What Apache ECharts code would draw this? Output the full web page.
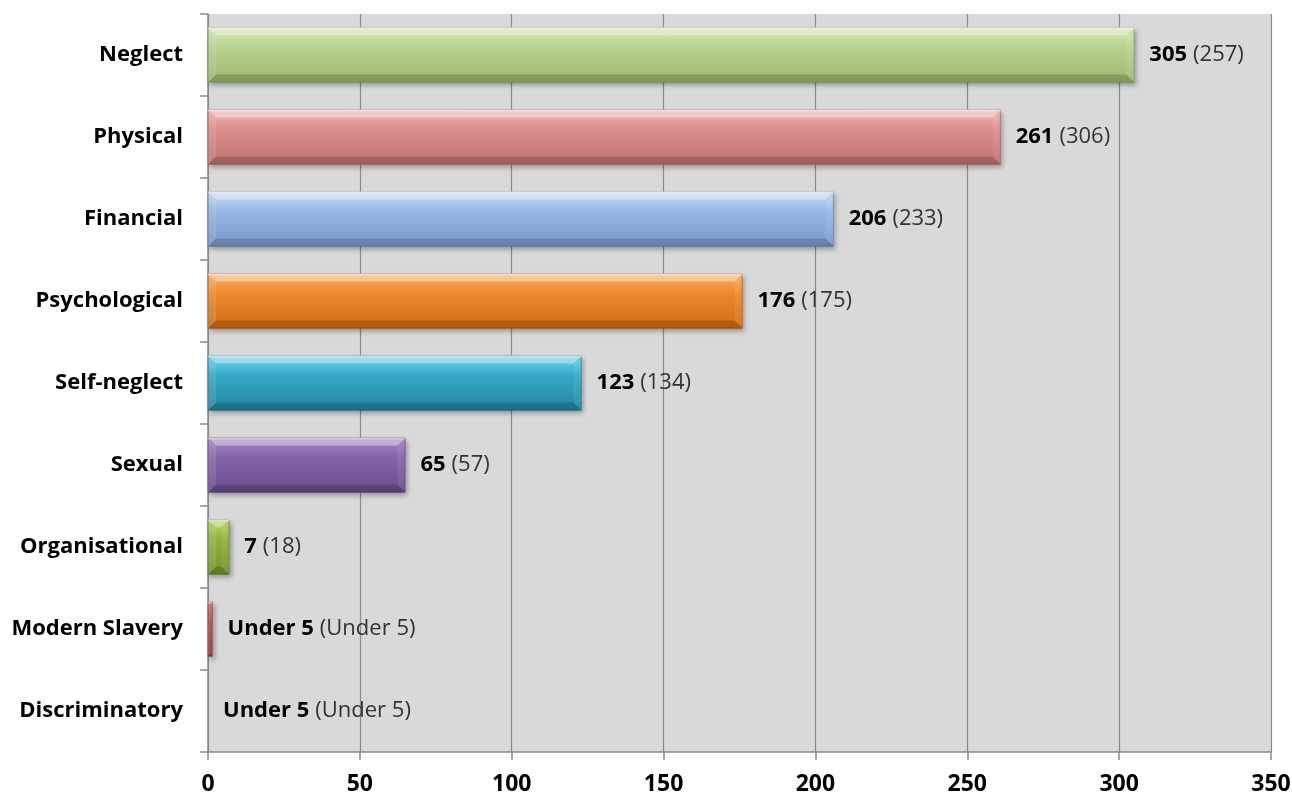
<!DOCTYPE html>
<html>
<head>
<meta charset="utf-8">
<script src="https://cdn.jsdelivr.net/npm/echarts@6/dist/echarts.min.js"></script>
<style>
  html, body { margin: 0; padding: 0; background: #ffffff; }
  #chart { width: 1292px; height: 796px; }
</style>
</head>
<body>
<div id="chart"></div>
<script>
// Types of abuse: bar length, this year's label, last year's label (in brackets)
const categories = ['Neglect', 'Physical', 'Financial', 'Psychological', 'Self-neglect',
                    'Sexual', 'Organisational', 'Modern Slavery', 'Discriminatory'];
const barValues = [305, 261, 206, 176, 123, 65, 7, 1.5, 0];
const currentLabels = ['305', '261', '206', '176', '123', '65', '7', 'Under 5', 'Under 5'];
const previousLabels = ['257', '306', '233', '175', '134', '57', '18', 'Under 5', 'Under 5'];
const xTicks = [0, 50, 100, 150, 200, 250, 300, 350];

// Per-bar colour: [top, middle, bottom, edge]
const barColors = [
  ['#d6eab5', '#b8d48f', '#9db670', '#7e9858'],
  ['#f3b8b7', '#db8d8c', '#c07272', '#9f5a5a'],
  ['#c9defa', '#98b8e4', '#7a98c8', '#5f7aa6'],
  ['#fbb466', '#ef8a2d', '#cf6b18', '#a9560f'],
  ['#72d8f0', '#35a9c6', '#24859f', '#1c6c82'],
  ['#a88dcb', '#8465a9', '#694d8c', '#553c73'],
  ['#bcd96c', '#90b33c', '#72932b', '#5d7a22'],
  ['#e07672', '#c0504d', '#9e3835', '#7f2b29'],
  ['#c8c8c8', '#b0b0b0', '#909090', '#707070']
];

const FONT = '"Open Sans", Lato, sans-serif';

const barData = barValues.map((v, i) => ({
  value: v,
  itemStyle: {
    color: new echarts.graphic.LinearGradient(0, 0, 0, 1, [
      { offset: 0, color: barColors[i][0] },
      { offset: 0.35, color: barColors[i][1] },
      { offset: 1, color: barColors[i][2] }
    ]),
    borderColor: barColors[i][3],
    borderWidth: v > 0 ? 0.6 : 0
  }
}));

// Bevel overlay drawn on top of each bar
const bevelData = barValues.map((v, i) => [v, i]);

const chart = echarts.init(document.getElementById('chart'), null, { renderer: 'canvas' });

chart.setOption({
  backgroundColor: '#ffffff',
  animation: false,
  grid: {
    left: 208, right: 21, top: 14, bottom: 44,
    outerBoundsMode: 'none',
    containLabel: false,
    show: true, backgroundColor: '#d9d9d9', borderWidth: 0
  },
  xAxis: {
    type: 'value',
    min: xTicks[0],
    max: xTicks[xTicks.length - 1],
    interval: xTicks[1] - xTicks[0],
    axisLine: { show: true, lineStyle: { color: '#8c8c8c', width: 1.5 } },
    axisTick: { show: true, length: 8, lineStyle: { color: '#8c8c8c', width: 1.5 } },
    splitLine: { show: true, lineStyle: { color: '#8c8c8c', width: 1.2 } },
    axisLabel: {
      margin: 21, color: '#000', fontFamily: FONT, fontWeight: 'bold', fontSize: 23
    }
  },
  yAxis: {
    type: 'category',
    data: categories,
    inverse: true,
    axisLine: { show: true, lineStyle: { color: '#8c8c8c', width: 1.5 } },
    axisTick: { show: true, length: 8, lineStyle: { color: '#8c8c8c', width: 1.5 } },
    axisLabel: {
      margin: 25, color: '#000', fontFamily: FONT, fontWeight: 'bold', fontSize: 22
    }
  },
  series: [
    {
      type: 'bar',
      data: barData,
      barWidth: '67%',
      itemStyle: {
        shadowColor: 'rgba(0,0,0,0.35)', shadowBlur: 5, shadowOffsetX: 2, shadowOffsetY: 3
      },
      label: {
        show: true,
        position: 'right',
        distance: 15,
        formatter: p => '{b|' + currentLabels[p.dataIndex] + '}{r|(' + previousLabels[p.dataIndex] + ')}',
        rich: {
          b: { fontFamily: FONT, fontWeight: 'bold', fontSize: 22, color: '#000' },
          r: { fontFamily: FONT, fontSize: 22, color: '#333', padding: [0, 0, 0, 6] }
        }
      },
      z: 2
    },
    {
      type: 'custom',
      data: bevelData,
      encode: { x: 0, y: 1 },
      z: 3,
      silent: true,
      renderItem: (params, api) => {
        const v = api.value(0);
        const idx = api.value(1);
        const p0 = api.coord([0, idx]);
        const p1 = api.coord([v, idx]);
        const h = api.size([0, 1])[1] * 0.67;
        const x0 = p0[0], x1 = p1[0];
        const yT = p0[1] - h / 2, yB = p0[1] + h / 2;
        const w = x1 - x0;
        if (w <= 0) return null;
        const b = Math.min(8, w / 2, h / 2);
        return {
          type: 'group',
          children: [
            { type: 'polygon', shape: { points: [[x0, yT], [x1, yT], [x1 - b, yT + b], [x0 + b, yT + b]] },
              style: { fill: 'rgba(255,255,255,0.38)' } },
            { type: 'polygon', shape: { points: [[x0, yB], [x1, yB], [x1 - b, yB - b], [x0 + b, yB - b]] },
              style: { fill: 'rgba(0,0,0,0.16)' } },
            { type: 'polygon', shape: { points: [[x0, yT], [x0 + b, yT + b], [x0 + b, yB - b], [x0, yB]] },
              style: { fill: 'rgba(255,255,255,0.12)' } },
            { type: 'polygon', shape: { points: [[x1, yT], [x1 - b, yT + b], [x1 - b, yB - b], [x1, yB]] },
              style: { fill: 'rgba(255,255,255,0.08)' } },
            { type: 'rect', shape: { x: x0, y: yT, width: w, height: 2 },
              style: { fill: 'rgba(255,255,255,0.35)' } }
          ]
        };
      }
    }
  ]
});
</script>
</body>
</html>
